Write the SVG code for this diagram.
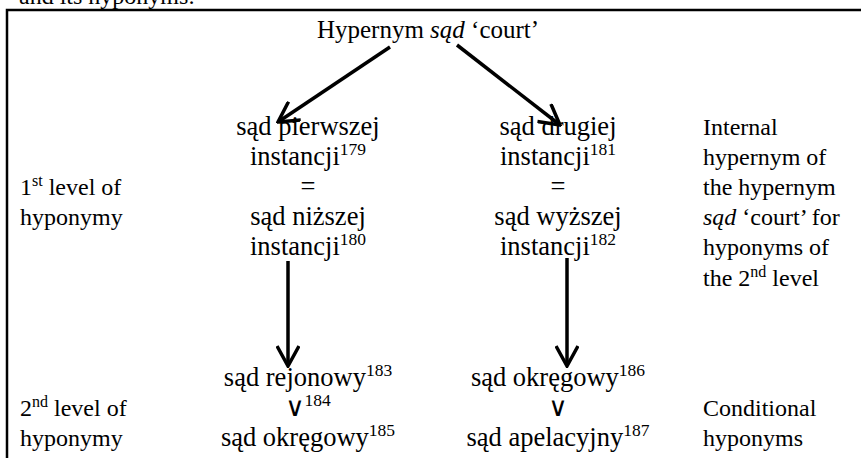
<svg xmlns="http://www.w3.org/2000/svg" width="861" height="458" viewBox="0 0 861 458">
<defs>
<style>
text{font-family:'Liberation Serif','Tinos','Times New Roman','DejaVu Serif',serif;font-size:24px;fill:#000}
.c{text-anchor:middle;font-size:26.5px}
.h{font-size:25px}
.sup{font-size:16px}
.c .sup{font-size:17.5px}
.conn line{stroke:#000;stroke-width:3.5;fill:none}
</style>
<marker id="ah" viewBox="0 0 24 24" refX="22" refY="12" markerWidth="24" markerHeight="24" markerUnits="userSpaceOnUse" orient="auto">
<path d="M2,1 L22,12 L2,23" fill="none" stroke="#000" stroke-width="3.5" stroke-linejoin="miter"/>
</marker>
</defs>
<rect width="861" height="458" fill="#fff"/>
<text x="19" y="4">and its hyponyms:</text>
<rect id="frame" x="7" y="10" width="900" height="500" fill="none" stroke="#000" stroke-width="2.5"/>
<g id="hypernym"><text class="c h" x="428" y="38">Hypernym <tspan font-style="italic">sąd</tspan> ‘court’</text></g>
<g id="level1-left">
<text class="c" x="308" y="135">sąd pierwszej</text>
<text class="c" x="308" y="165">instancji<tspan class="sup" dy="-10">179</tspan></text>
<text class="c" x="308" y="195">=</text>
<text class="c" x="308" y="225">sąd niższej</text>
<text class="c" x="308" y="255">instancji<tspan class="sup" dy="-10">180</tspan></text>
</g>
<g id="level1-right">
<text class="c" x="558" y="135">sąd drugiej</text>
<text class="c" x="558" y="165">instancji<tspan class="sup" dy="-10">181</tspan></text>
<text class="c" x="558" y="195">=</text>
<text class="c" x="558" y="225">sąd wyższej</text>
<text class="c" x="558" y="255">instancji<tspan class="sup" dy="-10">182</tspan></text>
</g>
<g id="level2-left">
<text class="c" x="308" y="386">sąd rejonowy<tspan class="sup" dy="-10">183</tspan></text>
<text class="c" x="308" y="416">∨<tspan class="sup" dy="-10">184</tspan></text>
<text class="c" x="308" y="446">sąd okręgowy<tspan class="sup" dy="-10">185</tspan></text>
</g>
<g id="level2-right">
<text class="c" x="558" y="386">sąd okręgowy<tspan class="sup" dy="-10">186</tspan></text>
<text class="c" x="558" y="416">∨</text>
<text class="c" x="558" y="446">sąd apelacyjny<tspan class="sup" dy="-10">187</tspan></text>
</g>
<g id="label-level1">
<text x="20" y="195">1<tspan class="sup" dy="-9">st</tspan><tspan dy="9"> level of</tspan></text>
<text x="20" y="225">hyponymy</text>
</g>
<g id="label-level2">
<text x="20" y="416">2<tspan class="sup" dy="-9">nd</tspan><tspan dy="9"> level of</tspan></text>
<text x="20" y="446">hyponymy</text>
</g>
<g id="note-internal">
<text x="703" y="135">Internal</text>
<text x="703" y="165">hypernym of</text>
<text x="703" y="195">the hypernym</text>
<text x="703" y="225"><tspan font-style="italic">sąd</tspan> ‘court’ for</text>
<text x="703" y="255">hyponyms of</text>
<text x="703" y="286">the 2<tspan class="sup" dy="-9">nd</tspan><tspan dy="9"> level</tspan></text>
</g>
<g id="note-conditional">
<text x="703" y="416">Conditional</text>
<text x="703" y="446">hyponyms</text>
</g>
<g id="connectors" class="conn">
<line x1="390" y1="47" x2="278" y2="122" marker-end="url(#ah)"/>
<line x1="457" y1="45" x2="560" y2="125" marker-end="url(#ah)"/>
<line x1="288" y1="261" x2="288" y2="366" marker-end="url(#ah)"/>
<line x1="567" y1="258" x2="567" y2="366" marker-end="url(#ah)"/>
</g>
</svg>
